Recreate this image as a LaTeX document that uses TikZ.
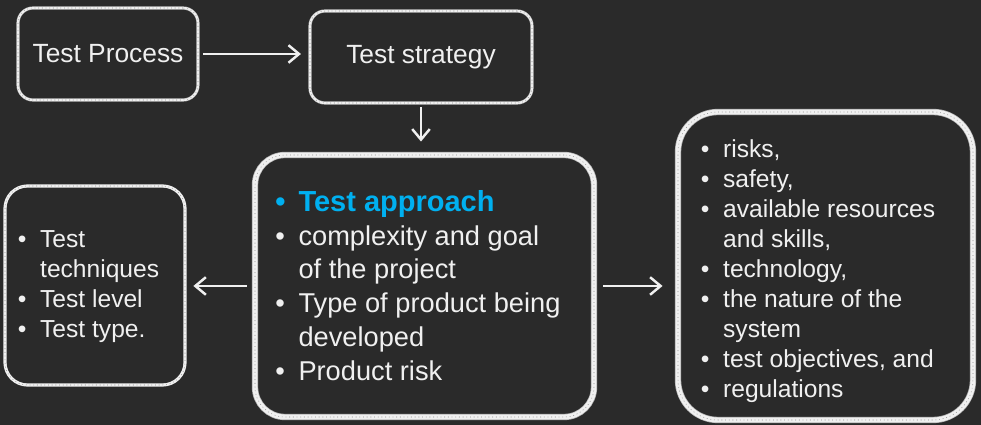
\documentclass[tikz,border=0pt]{standalone}
\usepackage{fontspec}
\setmainfont{Liberation Sans}
\usetikzlibrary{arrows.meta}
\definecolor{board}{HTML}{2A2A2A}
\definecolor{chalk}{HTML}{F0F0F0}
\definecolor{skyblue}{HTML}{00B0F0}
\tikzset{
  chalkbox/.style = {draw = chalk, text = chalk, line width = 1.2pt, rounded corners = 0.3cm,
    preaction = {draw = chalk!70!board, line width = 1.8pt},
    postaction = {draw = board, opacity = 0.5, line width = 0.3pt, dash pattern = on 0.5pt off 1.6pt}},
  thickchalk/.style = {line width = 2.8pt,
    preaction = {draw = chalk!70!board, line width = 3.6pt}},
  chalkarrow/.style = {draw = chalk, line width = 1.4pt, -{Straight Barb[length = 6pt, width = 10pt]}},
  listtxt/.style = {text = chalk, inner sep = 0pt, anchor = north west},
  handtxt/.style = {font = \fontsize{15}{18}\selectfont}
}
\begin{document}
\begin{tikzpicture}
  \fill[board] (0, 0) rectangle (19.62, -8.5);
  \node[chalkbox, handtxt, minimum width = 3.6cm, minimum height = 1.84cm] (proc) at (2.16, -1.08) {Test Process};
  \node[chalkbox, handtxt, minimum width = 4.44cm, minimum height = 1.84cm] (strat) at (8.42, -1.14) {Test strategy};
  \node[chalkbox, thickchalk, rounded corners = 0.6cm, minimum width = 6.78cm, minimum height = 5.24cm] (appr) at (8.49, -5.72) {};
  \node[chalkbox, line width = 1.6pt, rounded corners = 0.45cm, minimum width = 3.6cm, minimum height = 3.98cm] (tech) at (1.9, -5.71) {};
  \node[chalkbox, thickchalk, rounded corners = 0.8cm, minimum width = 5.9cm, minimum height = 6.16cm] (fact) at (16.51, -5.32) {};
  \draw[chalkarrow, shorten < = 0.08cm, shorten > = 0.16cm] (proc.east) -- (proc.east -| strat.west);
  \draw[chalkarrow, shorten < = 0.06cm, shorten > = 0.22cm] (strat.south) -- (strat.south |- appr.north);
  \draw[chalkarrow, shorten < = 0.12cm, shorten > = 0.14cm] (appr.west) -- (appr.west -| tech.east);
  \draw[chalkarrow, shorten < = 0.14cm, shorten > = 0.26cm] (appr.east) -- (appr.east -| fact.west);
  \node[listtxt] (apprlist) at (5.50, -3.74) {\fontsize{15.5}{19.3}\selectfont
    \begin{tabular}{@{}l@{\hspace{7.4pt}}l@{}}
      {\color{skyblue}\fontsize{16.5}{19.3}\selectfont\bfseries\textbullet} & {\color{skyblue}\fontsize{16.5}{19.3}\selectfont\bfseries Test approach}\\
      \textbullet & complexity and goal\\
       & of the project\\
      \textbullet & Type of product being\\
       & developed\\
      \textbullet & Product risk
    \end{tabular}};
  \node[listtxt] (techlist) at (0.35, -4.52) {\fontsize{14}{17.1}\selectfont
    \begin{tabular}{@{}l@{\hspace{7.8pt}}l@{}}
      \textbullet & Test\\
       & techniques\\
      \textbullet & Test level\\
      \textbullet & Test type.
    \end{tabular}};
  \node[listtxt] (factlist) at (14.01, -2.72) {\fontsize{14}{17.1}\selectfont
    \begin{tabular}{@{}l@{\hspace{7.8pt}}l@{}}
      \textbullet & risks,\\
      \textbullet & safety,\\
      \textbullet & available resources\\
       & and skills,\\
      \textbullet & technology,\\
      \textbullet & the nature of the\\
       & system\\
      \textbullet & test objectives, and\\
      \textbullet & regulations
    \end{tabular}};
\end{tikzpicture}
\end{document}
